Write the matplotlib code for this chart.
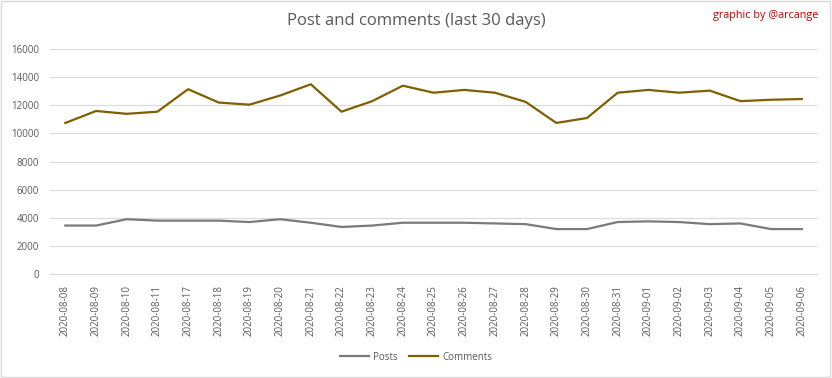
import matplotlib
matplotlib.use("Agg")
import matplotlib.pyplot as plt
from matplotlib.patches import Rectangle

# Data
dates = ["2020-08-08", "2020-08-09", "2020-08-10", "2020-08-11", "2020-08-17",
         "2020-08-18", "2020-08-19", "2020-08-20", "2020-08-21", "2020-08-22",
         "2020-08-23", "2020-08-24", "2020-08-25", "2020-08-26", "2020-08-27",
         "2020-08-28", "2020-08-29", "2020-08-30", "2020-08-31", "2020-09-01",
         "2020-09-02", "2020-09-03", "2020-09-04", "2020-09-05", "2020-09-06"]
posts = [3450, 3450, 3900, 3800, 3800, 3800, 3700, 3900, 3650, 3350,
         3450, 3650, 3650, 3650, 3600, 3550, 3200, 3200, 3700, 3750,
         3700, 3550, 3600, 3200, 3200]
comments = [10750, 11600, 11400, 11550, 13150, 12200, 12050, 12700, 13500, 11550,
            12300, 13400, 12900, 13100, 12900, 12250, 10750, 11100, 12900, 13100,
            12900, 13050, 12300, 12400, 12450]
yticks = list(range(0, 16001, 2000))

plt.rcParams["font.family"] = ["Open Sans", "DejaVu Sans"]
text_col = "#595959"

fig = plt.figure(figsize=(8.32, 3.78), dpi=100)
ax = fig.add_axes([0.0601, 0.275, 0.922, 0.595])

x = list(range(len(dates)))
ax.plot(x, posts, color="#7a7a7a", lw=1.6, label="Posts")
ax.plot(x, comments, color="#7f6000", lw=1.6, label="Comments")

ax.set_xlim(-0.5, len(dates) - 0.5)
ax.set_ylim(0, 16000)
ax.set_yticks(yticks)
ax.set_xticks(x)
ax.set_xticklabels(dates, rotation=90)
ax.tick_params(axis="both", length=0, labelsize=7, colors=text_col)
ax.tick_params(axis="x", pad=8)
ax.tick_params(axis="y", pad=8)
ax.grid(axis="y", color="#d9d9d9", lw=0.8)
ax.set_axisbelow(True)
for s in ["top", "right", "left"]:
    ax.spines[s].set_visible(False)
ax.spines["bottom"].set_color("#d9d9d9")

fig.text(0.5, 0.945, "Post and comments (last 30 days)", ha="center", va="center",
         fontsize=12, color=text_col)
fig.text(0.984, 0.96, "graphic by @arcange", ha="right", va="center",
         fontsize=7.8, color="#c00000")

fig.legend(loc="center", bbox_to_anchor=(0.5, 0.055), ncol=2, frameon=False,
           fontsize=7, labelcolor=text_col, handlelength=3.0, handletextpad=0.4,
           columnspacing=1.2)

fig.patches.append(Rectangle((0.001, 0.002), 0.997, 0.995, transform=fig.transFigure,
                             fill=False, edgecolor="#d9d9d9", lw=1))

fig.savefig("out.png", dpi=100, facecolor="white")
